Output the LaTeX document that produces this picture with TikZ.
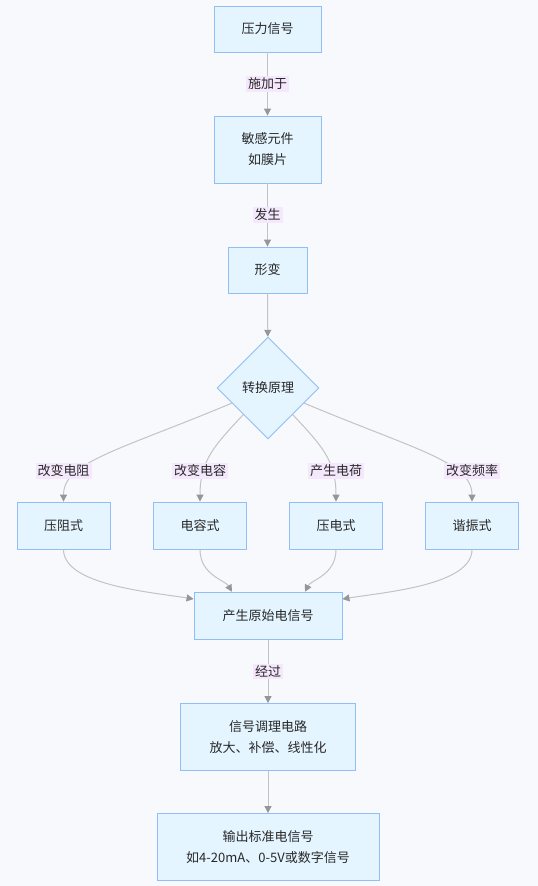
\documentclass[tikz,border=0pt]{standalone}
\usepackage{fontspec}
\setmainfont{Noto Sans CJK SC}
\usetikzlibrary{shapes.geometric,arrows.meta}
\definecolor{bgc}{RGB}{248,249,252}
\definecolor{boxfill}{RGB}{228,245,255}
\definecolor{boxdraw}{RGB}{144,190,245}
\definecolor{lblfill}{RGB}{245,232,252}
\definecolor{edgec}{RGB}{195,195,195}
\definecolor{tipc}{RGB}{150,150,150}
\definecolor{txt}{RGB}{40,40,40}
\tikzset{
  box/.style={draw=boxdraw, fill=boxfill, line width=0.9pt, inner sep=0pt, align=center, text=txt, font=\fontsize{13}{21}\selectfont},
  dia/.style={diamond, draw=boxdraw, fill=boxfill, line width=0.9pt, inner sep=0pt, minimum width=102pt, minimum height=102pt, text=txt, font=\fontsize{13}{21}\selectfont},
  lbl/.style={fill=lblfill, inner sep=2pt, text=txt, font=\fontsize{13}{16}\selectfont},
  edge/.style={draw=edgec, line width=1pt, -{Triangle[length=7pt,width=7pt,color=tipc]}},
}
\begin{document}
\begin{tikzpicture}[x=1pt,y=-1pt]
\useasboundingbox[fill=bgc] (0,0) rectangle (538,886);
\node[box, minimum width=107pt, minimum height=46pt] (p1) at (267.5,29) {压力信号};
\node[box, minimum width=107pt, minimum height=67pt] (p2) at (267.5,149.5) {敏感元件\\如膜片};
\node[box, minimum width=79pt, minimum height=46pt] (p3) at (267.5,270) {形变};
\node[dia] (d) at (268,388) {转换原理};
\node[box, minimum width=93pt, minimum height=47pt] (b1) at (63.5,525.5) {压阻式};
\node[box, minimum width=93pt, minimum height=47pt] (b2) at (200,525.5) {电容式};
\node[box, minimum width=93pt, minimum height=47pt] (b3) at (336,525.5) {压电式};
\node[box, minimum width=93pt, minimum height=47pt] (b4) at (472,525.5) {谐振式};
\node[box, minimum width=148pt, minimum height=47pt] (s) at (268,615.7) {产生原始电信号};
\node[box, minimum width=175pt, minimum height=67pt] (c) at (268,737) {信号调理电路\\放大、补偿、线性化};
\node[box, minimum width=222pt, minimum height=67pt] (o) at (268,847) {输出标准电信号\\如4-20mA、0-5V或数字信号};

\draw[edge] (p1) -- node[lbl] (l1) {施加于} (p2);
\draw[edge] (p2) -- node[lbl] (l2) {发生} (p3);
\draw[edge] (p3) -- (d);
\draw[edge] (d) .. controls (120,450) and (63.5,462) .. (b1);
\draw[edge] (d) .. controls (215,445) and (200,460) .. (b2);
\draw[edge] (d) .. controls (321,445) and (336,460) .. (b3);
\draw[edge] (d) .. controls (416,450) and (472,462) .. (b4);
\node[lbl] (la) at (63.5,471) {改变电阻};
\node[lbl] (lb) at (200,471) {改变电容};
\node[lbl] (lc) at (336,471) {产生电荷};
\node[lbl] (ld) at (472,471) {改变频率};
\draw[edge] (b1) .. controls (63.5,585) and (150,592) .. ([yshift=16.7pt]s.west);
\draw[edge] (b2) .. controls (200,575) and (225,580) .. ([xshift=-36pt]s.north);
\draw[edge] (b3) .. controls (336,575) and (311,580) .. ([xshift=37pt]s.north);
\draw[edge] (b4) .. controls (472,585) and (386,592) .. ([yshift=16.7pt]s.east);
\draw[edge] (s) -- node[lbl] (l3) {经过} (c);
\draw[edge] (c) -- (o);
\end{tikzpicture}
\end{document}
